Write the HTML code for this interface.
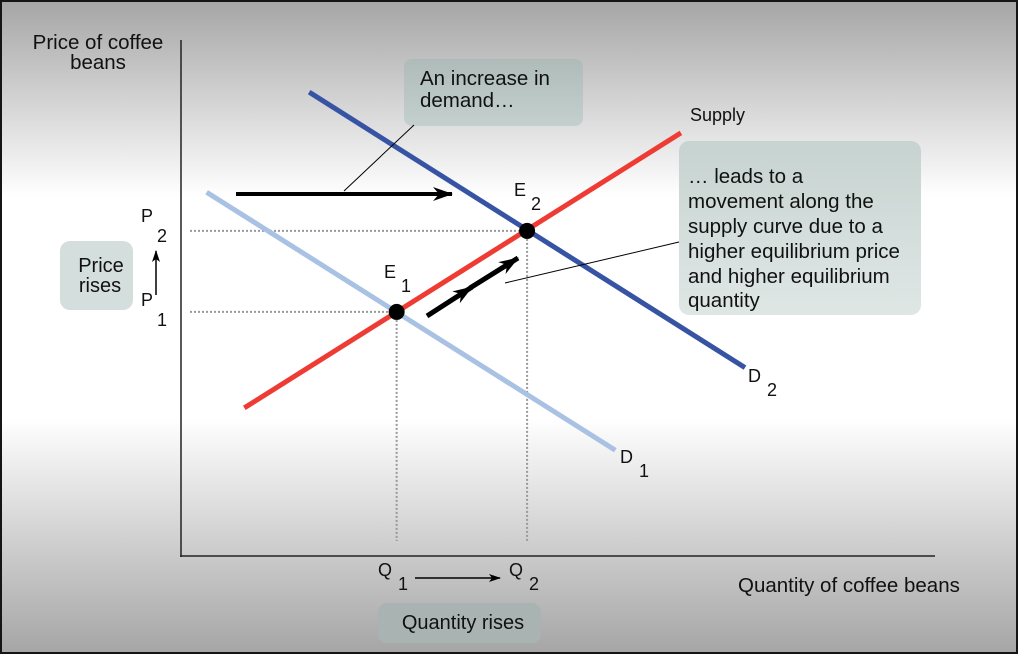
<!DOCTYPE html>
<html><head><meta charset="utf-8"><style>
html,body{margin:0;padding:0;width:1018px;height:654px;overflow:hidden;background:#151515;}
svg{display:block;font-family:"Liberation Sans",sans-serif;}
</style></head><body>
<svg id="chart" width="1018" height="654">
<defs>
<linearGradient id="bg" x1="0" y1="0" x2="0" y2="1">
<stop offset="0" stop-color="#a6a6a6"/><stop offset="0.3" stop-color="#ffffff"/>
<stop offset="0.64" stop-color="#ffffff"/><stop offset="0.86" stop-color="#c8c8c8"/>
<stop offset="1" stop-color="#a6a6a6"/></linearGradient>
<linearGradient id="box" x1="0" y1="0" x2="0" y2="1">
<stop offset="0" stop-color="#aebbb8"/><stop offset="1" stop-color="#c4d0cd"/></linearGradient>
<linearGradient id="box2" x1="0" y1="0" x2="0" y2="1">
<stop offset="0" stop-color="#c7d3d0"/><stop offset="1" stop-color="#dfe7e5"/></linearGradient>
<marker id="ah" markerWidth="12" markerHeight="8" refX="11" refY="4" orient="auto" markerUnits="userSpaceOnUse"><path d="M0,0 L12,4 L0,8 L3,4 Z" fill="#000"/></marker>
<marker id="ahb" markerWidth="20" markerHeight="14" refX="19" refY="7" orient="auto" markerUnits="userSpaceOnUse"><path d="M0,0 L20,7 L0,14 L6,7 Z" fill="#000"/></marker>
</defs>
<rect x="2" y="2" width="1014" height="650" fill="url(#bg)"/>
<g id="plot"></g>
<g>
<rect x="404" y="59" width="179" height="67" rx="8" fill="url(#box)"/>
<text x="420" y="85" font-size="20.5" fill="#111">An increase in</text>
<text x="420" y="107" font-size="20.5" fill="#111">demand…</text>
<line x1="414" y1="125" x2="344" y2="191" stroke="#000" stroke-width="1"/>
</g>
<g>
<rect x="679" y="141" width="242" height="174" rx="10" fill="url(#box2)"/>
<text font-size="20.5" fill="#111"><tspan x="688" y="183">… leads to a</tspan><tspan x="688" y="208">movement along the</tspan><tspan x="688" y="233">supply curve due to a</tspan><tspan x="688" y="258">higher equilibrium price</tspan><tspan x="688" y="283">and higher equilibrium</tspan><tspan x="688" y="307">quantity</tspan></text>
<line x1="679" y1="242" x2="505" y2="283" stroke="#000" stroke-width="1"/>
</g>
<g>
<rect x="60" y="241" width="73" height="69" rx="10" fill="#d4dedc"/>
<text x="101" y="272" font-size="20" text-anchor="middle" fill="#111">Price</text>
<text x="100" y="292" font-size="20" text-anchor="middle" fill="#111">rises</text>
</g>
<g>
<rect x="378" y="603" width="163" height="40" rx="9" fill="#a9b4b2"/>
<text x="463" y="629" font-size="20" text-anchor="middle" fill="#111">Quantity rises</text>
</g>
<text x="98" y="49" font-size="20.5" text-anchor="middle" fill="#111">Price of coffee</text>
<text x="98" y="69" font-size="20.5" text-anchor="middle" fill="#111">beans</text>
<text x="738" y="592" font-size="20.5" fill="#111">Quantity of coffee beans</text>
<text x="690" y="121" font-size="18" fill="#111">Supply</text>
<g font-size="18" fill="#111">
<text x="748" y="382">D<tspan dx="6" dy="14">2</tspan></text>
<text x="620" y="463">D<tspan dx="6" dy="14">1</tspan></text>
<text x="384" y="278">E<tspan dx="5" dy="14">1</tspan></text>
<text x="514" y="196">E<tspan dx="5" dy="14">2</tspan></text>
<text x="141" y="222">P<tspan dx="4" dy="20">2</tspan></text>
<text x="141" y="306">P<tspan dx="4" dy="20">1</tspan></text>
<text x="378" y="576">Q<tspan dx="6" dy="14">1</tspan></text>
<text x="509" y="576">Q<tspan dx="6" dy="14">2</tspan></text>
</g>
<line x1="156" y1="295" x2="156" y2="251" stroke="#000" stroke-width="1.5" marker-end="url(#ah)"/>
<line x1="415" y1="578" x2="500" y2="578" stroke="#000" stroke-width="1.5" marker-end="url(#ah)"/>
<line x1="236" y1="194" x2="452" y2="194" stroke="#000" stroke-width="4" marker-end="url(#ahb)"/>
<g>
<line x1="427" y1="316" x2="472" y2="287" stroke="#000" stroke-width="5" marker-end="url(#ahb)"/>
<line x1="470" y1="288" x2="518" y2="258" stroke="#000" stroke-width="5" marker-end="url(#ahb)"/>
</g>
</svg>
<script>
const curveNames = ["demand-d2","demand-d1","supply"];
const curveQ = [[17,74.8],[3.4,57.6],[8.4,66.3]];
const curveP = [[89.9,36.5],[70.5,20.5],[28.7,82]];
const curveColors = ["#3753a3","#a9c2e4","#ee3b34"];
const eqNames = ["e1","e2"];
const eqQ = [28.6,45.9];
const eqP = [47.3,63];
const xs = q => 181 + q*7.54;
const ys = p => 556 - p*5.16;
const NS="http://www.w3.org/2000/svg";
const g=document.getElementById('plot');
function mk(t,a){const e=document.createElementNS(NS,t);for(const k in a)e.setAttribute(k,a[k]);g.appendChild(e);return e;}
for(let i=0;i<eqQ.length;i++){
 const h=mk('line',{x1:190,y1:ys(eqP[i]),x2:xs(eqQ[i]),y2:ys(eqP[i]),stroke:'#999','stroke-width':2,'stroke-dasharray':'2 2'});
 
 
 const v=mk('line',{x1:xs(eqQ[i]),y1:ys(eqP[i]),x2:xs(eqQ[i]),y2:541,stroke:'#999','stroke-width':2,'stroke-dasharray':'2 2'});
 
 
}
const ya=mk('line',{x1:181,y1:40,x2:181,y2:557,stroke:'#222','stroke-width':1.5});


const xa=mk('line',{x1:180,y1:556,x2:935,y2:556,stroke:'#222','stroke-width':1.5});


[1,0,2].forEach(i=>{
 const l=mk('line',{x1:xs(curveQ[i][0]),y1:ys(curveP[i][0]),x2:xs(curveQ[i][1]),y2:ys(curveP[i][1]),stroke:curveColors[i],'stroke-width':5});
 
 
});
for(let i=0;i<eqQ.length;i++){
 const c=mk('circle',{cx:xs(eqQ[i]),cy:ys(eqP[i]),r:8,fill:'#000'});
 
 
}
</script>
</body></html>
